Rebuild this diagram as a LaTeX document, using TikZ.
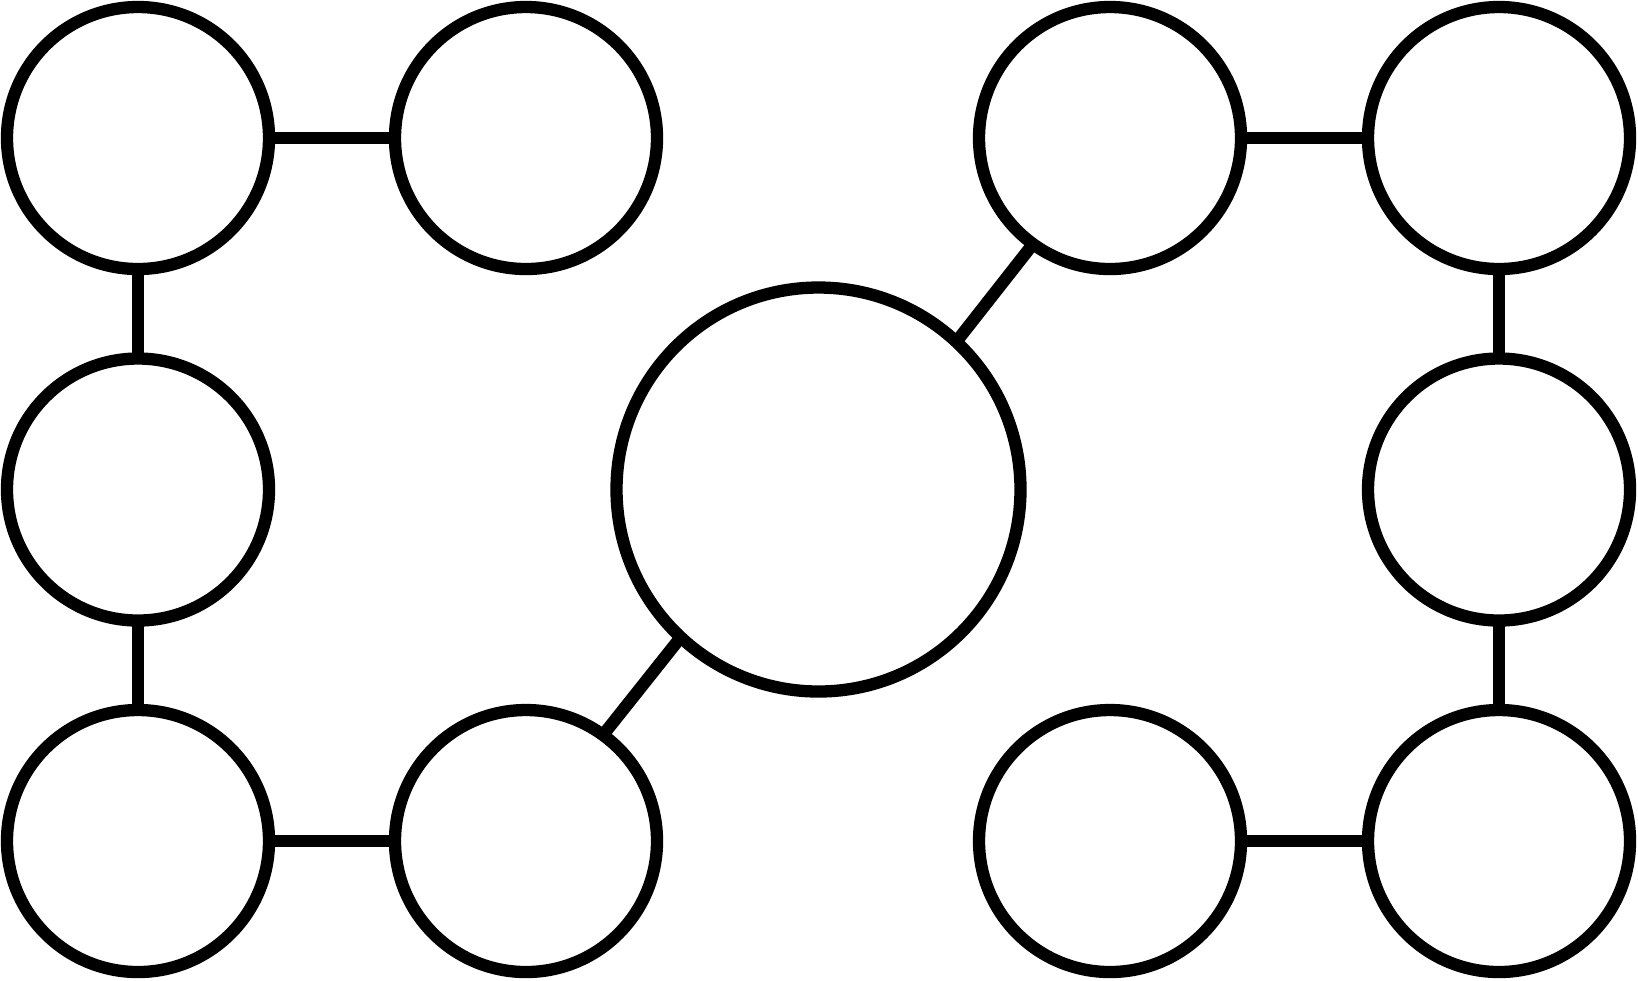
\documentclass[tikz,border=0pt]{standalone}
\usepackage{tikz}
\usetikzlibrary{positioning}

\tikzset{
	ring/.style={circle, draw=black, line width=3.5pt, minimum size=2.62cm, inner sep=0pt, outer sep=0pt},
	hub/.style={ring, minimum size=4.04cm},
	link/.style={line width=3.5pt}
}

\begin{document}
\begin{tikzpicture}
	\useasboundingbox (0,0) rectangle (16.38,-9.80);
	
	\node[hub] (m) at (8.185,-4.895) {};
	
	\node[ring] (a1) at (1.38,-1.38) {};
	\node[ring, right=1.26cm of a1] (b1) {};
	\node[ring, below=0.895cm of a1] (a2) {};
	\node[ring, below=0.895cm of a2] (a3) {};
	\node[ring, right=1.26cm of a3] (b3) {};
	
	\node[ring] (d1) at (14.99,-1.38) {};
	\node[ring, left=1.27cm of d1] (c1) {};
	\node[ring, below=0.895cm of d1] (d2) {};
	\node[ring, below=0.895cm of d2] (d3) {};
	\node[ring, left=1.27cm of d3] (c3) {};
	
	\draw[link] (b1) -- (a1) -- (a2) -- (a3) -- (b3);
	\draw[link] (b3.54) -- (m.227);
	\draw[link] (m.47) -- (c1.234);
	\draw[link] (c1) -- (d1) -- (d2) -- (d3) -- (c3);
\end{tikzpicture}
\end{document}
